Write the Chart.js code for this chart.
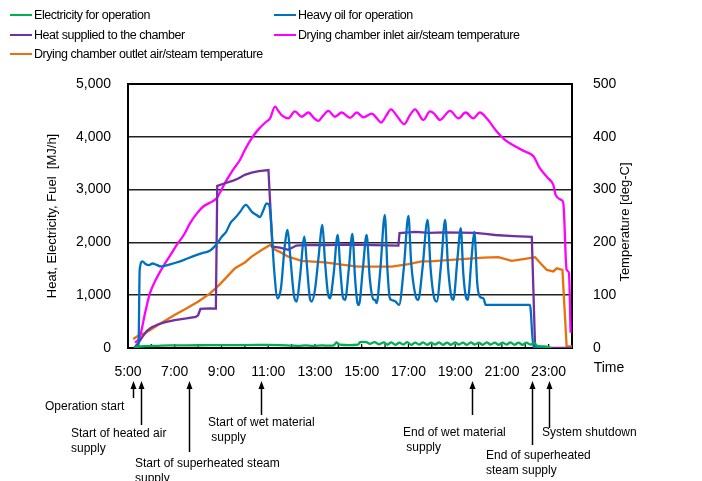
<!DOCTYPE html>
<html>
<head>
<meta charset="utf-8">
<script src="https://cdn.jsdelivr.net/npm/chart.js@4.4.1/dist/chart.umd.min.js"></script>
<style>
  html, body { margin: 0; padding: 0; background: #fff; }
  #wrap { position: relative; width: 702px; height: 481px; font-family: "Liberation Sans", Arial, sans-serif; }
  #legend .item { position: absolute; font-size: 12.5px; letter-spacing: -0.45px; line-height: 14px; white-space: nowrap; color: #000; }
  #legend .swatch { display: inline-block; width: 22px; height: 0; border-top: 2.5px solid; vertical-align: middle; margin-right: 2px; position: relative; top: -1px; }
  canvas { position: absolute; left: 0; top: 0; }
</style>
</head>
<body>
<div id="wrap">
  <canvas id="chart" width="702" height="481"></canvas>
  <div id="legend"></div>
</div>
<script>
// time in decimal hours
const elecT = [5.26, 5.4, 5.8, 6.2, 6.8, 7.5, 8.5, 9.5, 10.5, 11.0, 11.5, 12.0, 12.3, 12.6, 12.9, 13.3, 13.8, 13.92, 14.05, 14.85, 14.93, 15.2, 15.35, 15.55, 15.75, 15.95,
  16.1, 16.27, 16.44, 16.61, 16.78, 16.95, 17.12, 17.29, 17.46, 17.63, 17.8, 17.97, 18.14, 18.31, 18.48, 18.65, 18.82, 18.99, 19.16, 19.33, 19.5, 19.67, 19.84,
  20.01, 20.18, 20.35, 20.52, 20.69, 20.86, 21.03, 21.2, 21.37, 21.54, 21.71, 21.88, 22.05, 22.22, 22.39, 22.5, 22.8, 23.0, 23.1];
const elecV = [0, 25, 35, 40, 50, 50, 55, 55, 58, 60, 55, 45, 40, 50, 42, 48, 50, 105, 65, 65, 110, 110, 80, 110, 70, 105,
  65, 105, 60, 100, 65, 110, 60, 100, 65, 105, 60, 100, 65, 105, 60, 100, 60, 105, 65, 100, 60, 105, 65,
  100, 60, 105, 65, 100, 60, 100, 65, 105, 60, 100, 60, 100, 65, 95, 40, 30, 15, 0];

const oilT = [5.26, 5.45, 5.5, 5.62, 5.75, 5.9, 6.05, 6.2, 6.4, 6.6, 7.0, 7.4, 7.8, 8.2, 8.5, 8.7, 8.85, 9.0, 9.2, 9.4, 9.6, 9.8, 10.04, 10.3, 10.5, 10.65, 10.8, 10.93, 11.05, 11.15, 11.25, 11.4,
  11.55, 11.7, 11.83, 11.95, 12.1, 12.22, 12.35, 12.55, 12.65, 12.78, 12.86, 13.0, 13.15, 13.32, 13.42, 13.55, 13.64, 13.8, 13.97, 14.1, 14.2, 14.29, 14.45, 14.6, 14.72, 14.82, 14.88,
  15.05, 15.21, 15.35, 15.5, 15.57, 15.64, 15.8, 15.99, 16.1, 16.2, 16.28, 16.45, 16.6, 16.8, 17.0, 17.12, 17.3, 17.42, 17.6, 17.82, 17.95, 18.1, 18.21, 18.4, 18.57, 18.7, 18.85, 18.92,
  19.1, 19.24, 19.35, 19.47, 19.54, 19.7, 19.82, 19.95, 20.06, 20.21, 20.31, 22.2, 22.35, 23.0];
const oilV = [0, 40, 1480, 1640, 1590, 1570, 1600, 1580, 1545, 1560, 1610, 1670, 1740, 1800, 1840, 1920, 2000, 2100, 2200, 2380, 2470, 2580, 2710, 2580, 2520, 2480, 2620, 2740, 2700, 2200, 1500, 940,
  1150, 1900, 2235, 1700, 1000, 880, 1300, 2110, 1600, 950, 880, 1100, 1700, 2330, 1700, 1050, 940, 1400, 2140, 1400, 950, 910, 1500, 2160, 1300, 850, 815,
  1500, 2140, 1300, 920, 910, 850, 1500, 2520, 1500, 950, 910, 880, 815, 1500, 2500, 1600, 1000, 910, 1500, 2425, 1500, 950, 880, 1600, 2425, 1500, 950, 910,
  1700, 2270, 1400, 950, 910, 1700, 2200, 1200, 970, 940, 815, 815, 20, 0];

const heatT = [5.26, 5.45, 5.6, 5.8, 6.0, 6.3, 6.6, 7.0, 7.5, 7.9, 8.0, 8.1, 8.5, 8.76, 8.82, 9.15, 9.5, 9.72, 10.0, 10.29, 10.6, 11.01, 11.18, 11.5, 11.86, 12.2, 12.5, 13.5, 14.5, 15.5,
  16.57, 16.62, 17.0, 17.3, 17.9, 18.5, 19.2, 19.85, 20.3, 20.71, 21.5, 22.28, 22.42, 22.5, 24.0];
const heatV = [0, 100, 200, 320, 390, 450, 490, 530, 560, 590, 620, 740, 750, 745, 3070, 3120, 3170, 3210, 3280, 3320, 3350, 3370, 1920, 1900, 1860, 1940, 1950, 1950, 1960, 1950,
  1940, 2175, 2190, 2200, 2180, 2190, 2185, 2180, 2160, 2140, 2120, 2105, 20, 0, 0];

const inletT = [5.3, 5.5, 5.75, 5.94, 6.2, 6.5, 6.8, 7.08, 7.4, 7.65, 7.95, 8.22, 8.5, 8.8, 9.0, 9.22, 9.5, 9.79, 10.0, 10.29, 10.6, 10.9, 11.08, 11.29, 11.45, 11.6, 11.86,
  12.14, 12.43, 12.72, 12.95, 13.14, 13.35, 13.57, 13.86, 14.14, 14.5, 14.79, 15.07, 15.43, 15.65, 15.83, 16.05, 16.25, 16.5, 16.82, 17.05, 17.28, 17.64, 17.92, 18.1, 18.35,
  18.78, 19.14, 19.45, 19.78, 20.06, 20.35, 20.78, 21.13, 21.56, 21.99, 22.35, 22.63, 22.99, 23.2, 23.3, 23.56, 23.63, 23.77, 23.87, 23.94];
const inletV = [10, 20, 70, 104, 130, 154, 175, 195, 215, 236, 255, 268, 275, 284, 300, 318, 338, 356, 375, 397, 415, 428, 435, 457, 448, 440, 435,
  448, 438, 446, 436, 430, 440, 449, 438, 446, 436, 446, 437, 444, 435, 427, 440, 452, 440, 424, 440, 452, 432, 448, 444, 432,
  449, 435, 446, 435, 446, 435, 410, 394, 382, 372, 363, 340, 321, 309, 290, 280, 274, 148, 142, 29];

const outletT = [5.22, 5.5, 5.73, 6.3, 7.01, 7.5, 8.01, 8.5, 8.94, 9.3, 9.58, 10.0, 10.29, 10.7, 11.08, 11.29, 11.5, 11.86, 12.43, 13.43, 14.14, 14.85, 16.28, 17.0, 17.57, 17.92,
  19.14, 20.21, 20.85, 21.42, 21.99, 22.42, 22.7, 22.92, 23.2, 23.35, 23.59, 23.77, 24.0];
const outletV = [17, 25, 28, 44, 63, 75, 88, 103, 121, 138, 151, 162, 173, 185, 195, 186, 182, 173, 165, 162, 158, 154, 154, 159, 164, 164,
  168, 171, 172, 165, 169, 172, 158, 148, 145, 151, 148, 3, 3];

const seriesNames = ['Electricity for operation', 'Heavy oil for operation', 'Heat supplied to the chamber',
  'Drying chamber inlet air/steam temperature', 'Drying chamber outlet air/steam temperature'];
const seriesColors = ['#00B050', '#0070C0', '#7030A0', '#FF00FF', '#E8700F'];

// events marked with arrows under the time axis
const eventT = [5.21, 5.56, 7.61, 10.69, 19.72, 22.29, 23.01];
const eventText = [['Operation start'], ['Start of heated air', 'supply'], ['Start of superheated steam', 'supply'],
  ['Start of wet material', ' supply'], ['End of wet material', ' supply'], ['End of superheated', 'steam supply'], ['System shutdown']];

const pts = (t, v) => t.map((x, i) => ({ x: x, y: v[i] }));

// arrow ends and text placement for the event notes
const noteArrowEnd = [398, 425, 452, 415, 415, 445, 428];
const noteTextX = [45, 71, 135, 208, 403, 486, 542];
const noteTextY = [407, 434, 464, 423, 433, 456, 433];

const extras = {
  id: 'extras',
  beforeDatasetsDraw(chart) {
    const { ctx, chartArea: a } = chart;
    const x = chart.scales.x;
    ctx.save();
    ctx.strokeStyle = '#000';
    ctx.lineWidth = 2;
    ctx.strokeRect(a.left, a.top, a.right - a.left, a.bottom - a.top);
    ctx.lineWidth = 1.2;
    for (let h = 6; h < 24; h++) {
      const px = x.getPixelForValue(h);
      ctx.beginPath();
      ctx.moveTo(px, a.bottom);
      ctx.lineTo(px, a.bottom - 4);
      ctx.stroke();
    }
    ctx.restore();
  },
  afterDraw(chart) {
    const { ctx } = chart;
    const x = chart.scales.x;
    ctx.save();
    ctx.fillStyle = '#000';
    ctx.strokeStyle = '#000';
    ctx.font = '14px "Liberation Sans", Arial, sans-serif';
    ctx.textAlign = 'center';
    ctx.textBaseline = 'middle';
    ctx.fillText('Time', 609, 368);

    ctx.save();
    ctx.translate(625, 222);
    ctx.rotate(-Math.PI / 2);
    ctx.font = '13px "Liberation Sans", Arial, sans-serif';
    ctx.fillText('Temperature [deg-C]', 0, 0);
    ctx.restore();

    ctx.font = '12px "Liberation Sans", Arial, sans-serif';
    ctx.textAlign = 'left';
    eventT.forEach((t, i) => {
      const px = Math.round(x.getPixelForValue(t)) + 0.5;
      ctx.lineWidth = 1.5;
      ctx.beginPath();
      ctx.moveTo(px, 386);
      ctx.lineTo(px, noteArrowEnd[i]);
      ctx.stroke();
      ctx.beginPath();
      ctx.moveTo(px, 381);
      ctx.lineTo(px - 3, 389);
      ctx.lineTo(px + 3, 389);
      ctx.closePath();
      ctx.fill();
      eventText[i].forEach((line, j) => {
        ctx.fillText(line, noteTextX[i], noteTextY[i] + j * 15);
      });
    });
    ctx.restore();
  }
};

const datasets = [
  { data: pts(elecT, elecV), yAxisID: 'y', tension: 0.3 },
  { data: pts(oilT, oilV), yAxisID: 'y', tension: 0.3, cubicInterpolationMode: 'monotone' },
  { data: pts(heatT, heatV), yAxisID: 'y', tension: 0 },
  { data: pts(inletT, inletV), yAxisID: 'y2', tension: 0.3, cubicInterpolationMode: 'monotone' },
  { data: pts(outletT, outletV), yAxisID: 'y2', tension: 0 }
].map((d, i) => Object.assign(d, {
  label: seriesNames[i],
  borderColor: seriesColors[i],
  backgroundColor: seriesColors[i],
  borderWidth: 2.3,
  pointRadius: 0,
  fill: false
}));

new Chart(document.getElementById('chart'), {
  type: 'line',
  data: { datasets: datasets },
  options: {
    responsive: false,
    animation: false,
    devicePixelRatio: 1,
    layout: { padding: { top: 84, left: 0, right: 0, bottom: 0 } },
    plugins: { legend: { display: false }, tooltip: { enabled: false } },
    scales: {
      x: {
        type: 'linear', min: 5, max: 24,
        grid: { display: false },
        border: { display: false },
        ticks: {
          stepSize: 1, autoSkip: false, maxRotation: 0, padding: 8, color: '#000',
          font: { size: 14, family: '"Liberation Sans", Arial, sans-serif' },
          callback: v => (v % 2 === 1 ? v + ':00' : '')
        },
        afterFit: s => { s.height = 133; }
      },
      y: {
        position: 'left', min: 0, max: 5000,
        grid: { color: '#222', lineWidth: 1.5, drawTicks: false },
        border: { display: false },
        ticks: {
          stepSize: 1000, padding: 17, color: '#000',
          font: { size: 14, family: '"Liberation Sans", Arial, sans-serif' },
          callback: v => v.toLocaleString('en-US')
        },
        title: {
          display: true, text: 'Heat, Electricity, Fuel  [MJ/h]', color: '#000',
          font: { size: 13, family: '"Liberation Sans", Arial, sans-serif' },
          padding: { top: 45, bottom: 0 }
        },
        afterFit: s => { s.width = 128; }
      },
      y2: {
        position: 'right', min: 0, max: 500,
        grid: { display: false },
        border: { display: false },
        ticks: {
          stepSize: 100, padding: 13, color: '#000',
          font: { size: 14, family: '"Liberation Sans", Arial, sans-serif' }
        },
        afterFit: s => { s.width = 130; }
      }
    }
  },
  plugins: [extras]
});

// two-column legend above the plot
const legendPos = [[10, 8], [274, 8], [10, 28], [274, 28], [10, 47]];
const legend = document.getElementById('legend');
seriesNames.forEach((name, i) => {
  const el = document.createElement('div');
  el.className = 'item';
  el.style.left = legendPos[i][0] + 'px';
  el.style.top = legendPos[i][1] + 'px';
  el.innerHTML = '<span class="swatch" style="border-color:' + seriesColors[i] + '"></span>' + name;
  legend.appendChild(el);
});
</script>
</body>
</html>
